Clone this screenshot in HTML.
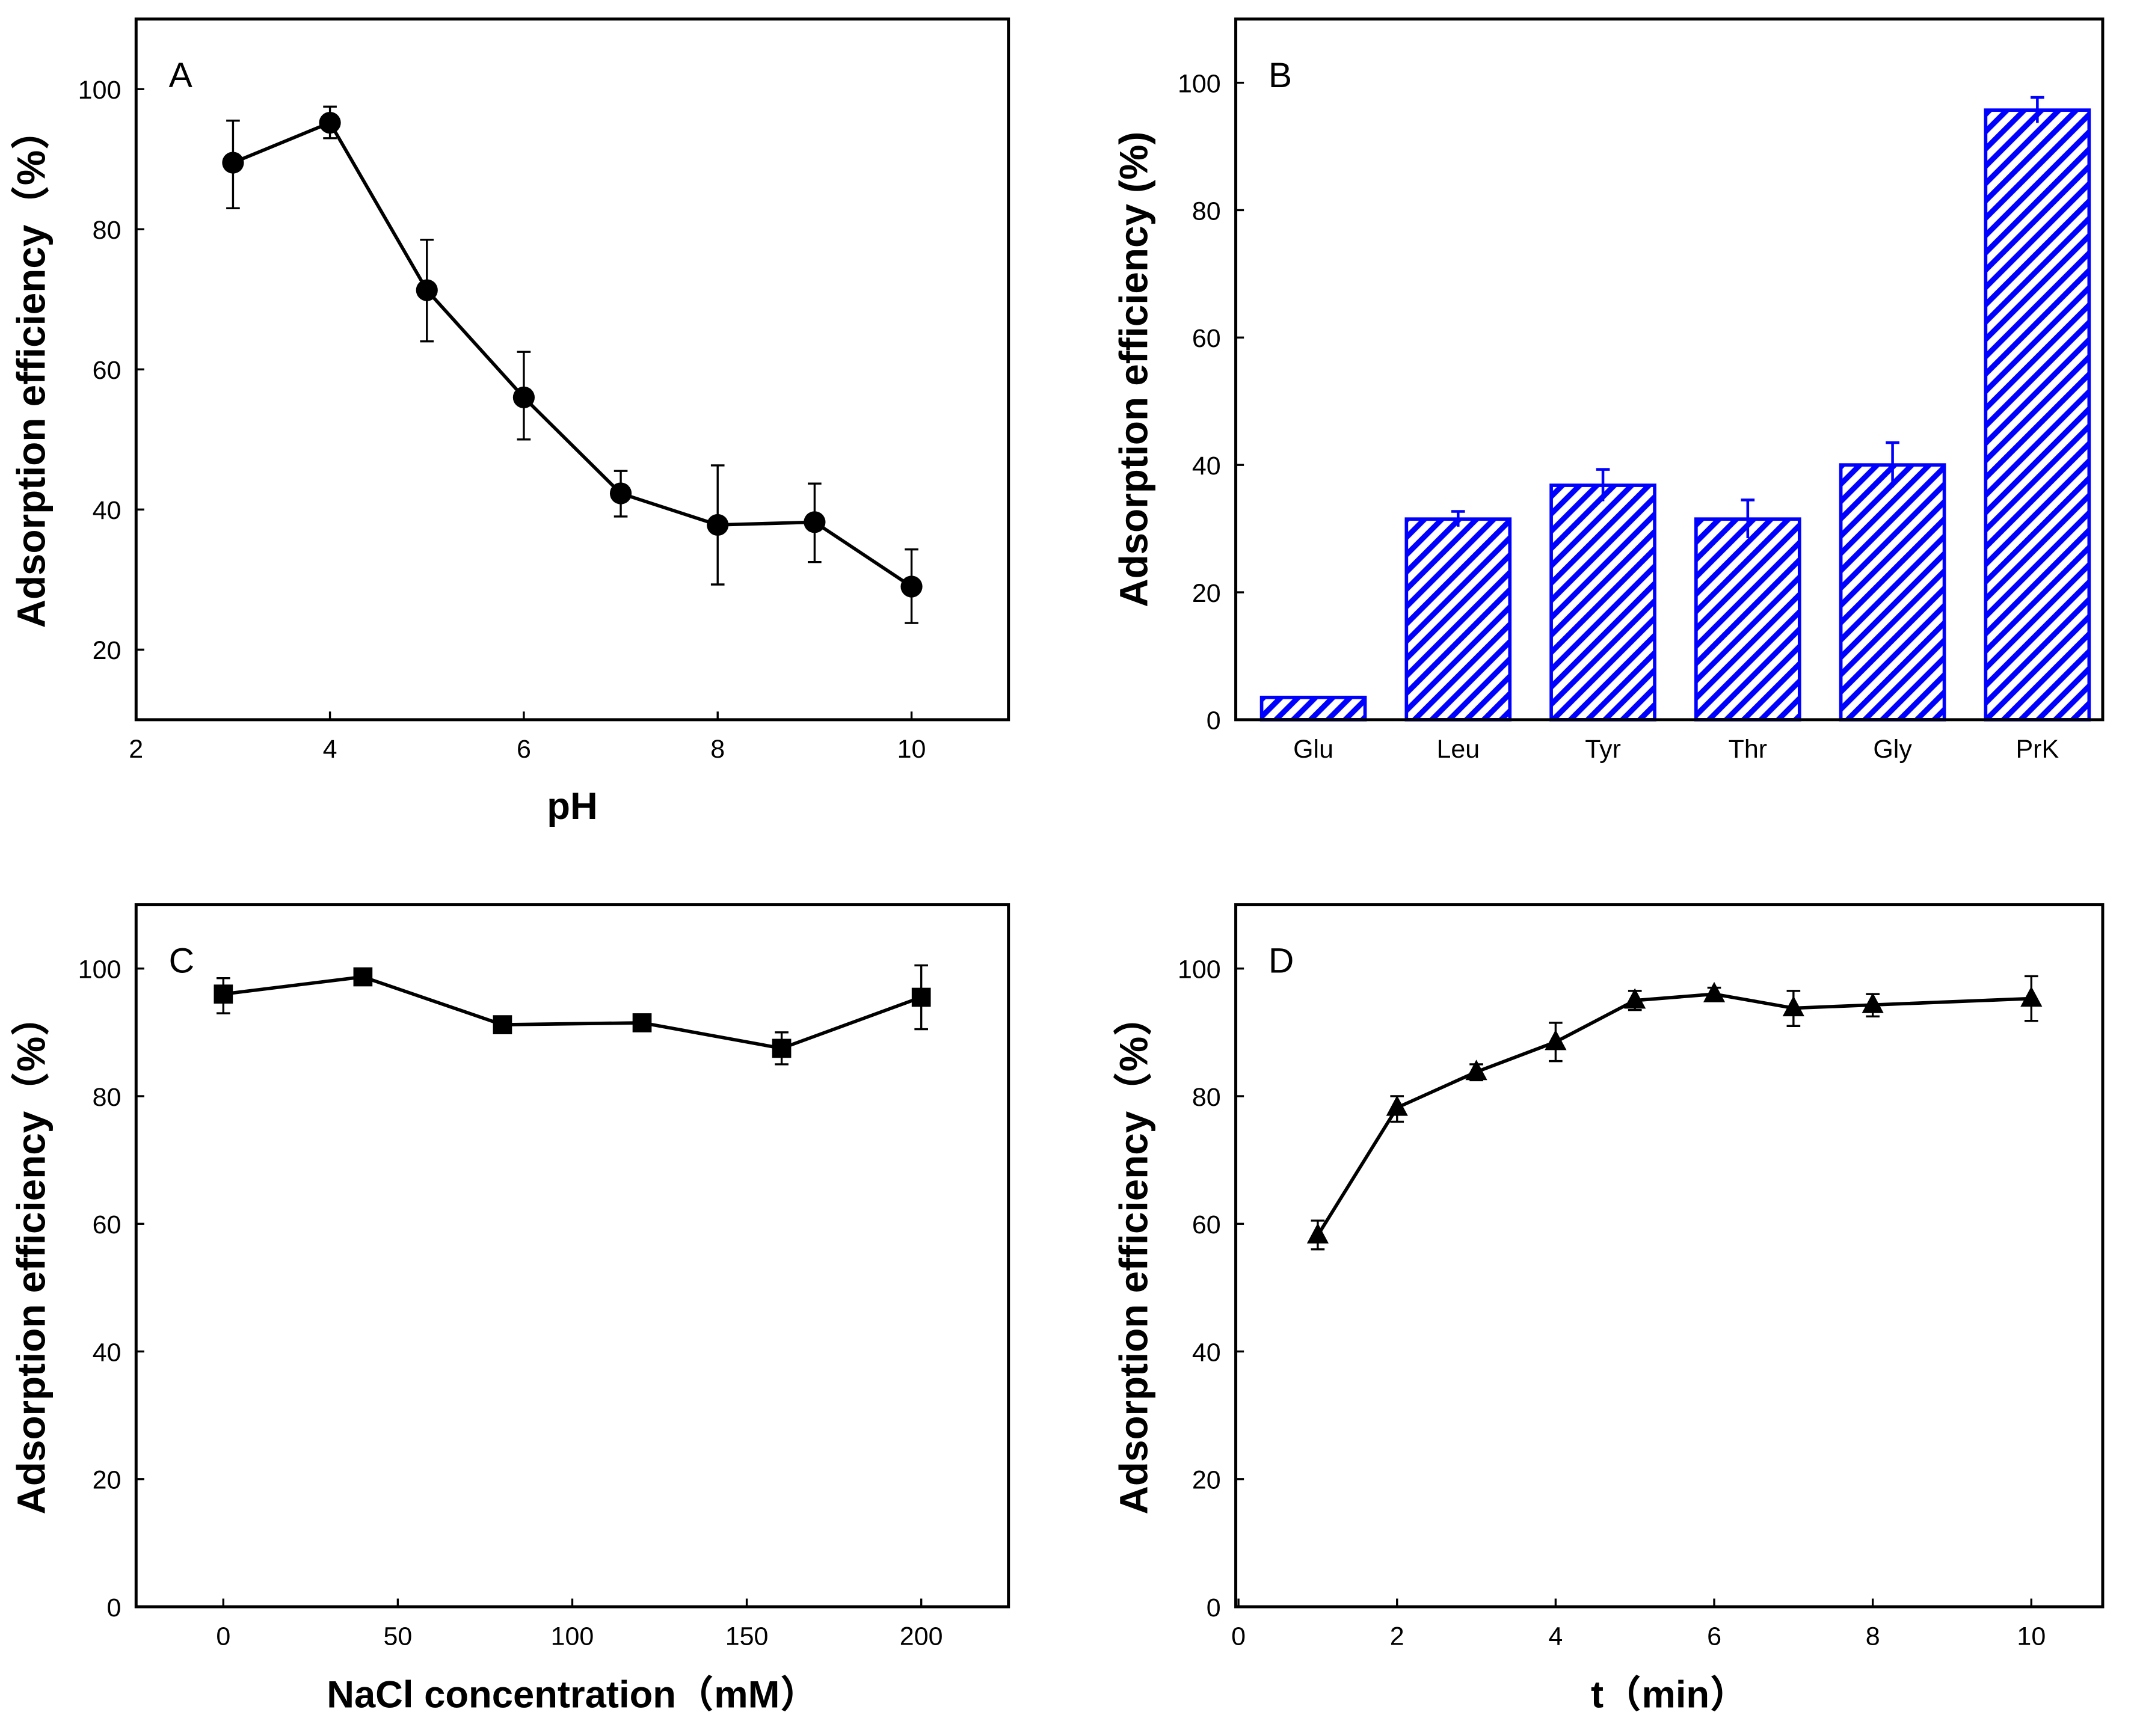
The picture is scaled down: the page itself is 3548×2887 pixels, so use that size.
<!DOCTYPE html>
<html><head><meta charset="utf-8"><style>
html,body{margin:0;padding:0;background:#fff}
svg{display:block}
text{font-family:"Liberation Sans","Noto Sans CJK SC",sans-serif;fill:#000}
</style></head><body>
<svg id="fig" width="3548" height="2887" viewBox="0 0 1568 1276" preserveAspectRatio="none" xmlns="http://www.w3.org/2000/svg">
<defs>
<pattern id="hatch" patternUnits="userSpaceOnUse" width="9" height="9" patternTransform="rotate(45)">
<rect width="9" height="9" fill="#fff"/><rect x="0" y="0" width="4" height="9" fill="#0000ff"/>
</pattern>
</defs>
</svg>
<script>
// Panel A data
const phX=[3,4,5,6,7,8,9,10];
const phY=[89.5,95.2,71.3,56,42.3,37.8,38.2,29];
const phLo=[83,93,64,50,39,29.3,32.5,23.8];
const phHi=[95.5,97.5,78.5,62.5,45.5,46.3,43.7,34.3];
const phXTicks=[2,4,6,8,10];
const phYTicks=[20,40,60,80,100];
// Panel B data
const aaCats=["Glu","Leu","Tyr","Thr","Gly","PrK"];
const aaVals=[3.5,31.5,36.8,31.5,40,95.7];
const aaErr=[0,1.2,2.5,3,3.5,2];
const aaYTicks=[0,20,40,60,80,100];
// Panel C data
const naclX=[0,40,80,120,160,200];
const naclY=[96,98.7,91.2,91.5,87.5,95.5];
const naclLo=[93,98,90.5,90.8,85,90.5];
const naclHi=[98.5,99.4,91.9,92.2,90,100.5];
const naclXTicks=[0,50,100,150,200];
const naclYTicks=[0,20,40,60,80,100];
// Panel D data
const tX=[1,2,3,4,5,6,7,8,10];
const tY=[58.2,78.2,83.8,88.5,95,96,93.8,94.3,95.3];
const tLo=[56,76,82.5,85.5,93.5,95,91,92.5,91.8];
const tHi=[60.5,80,85,91.5,96.5,97,96.5,96,98.8];
const tXTicks=[0,2,4,6,8,10];
const tYTicks=[0,20,40,60,80,100];

const NS="http://www.w3.org/2000/svg";
const svg=document.getElementById('fig');
function mk(tag,attrs,parent,text){const e=document.createElementNS(NS,tag);for(const k in attrs)e.setAttribute(k,attrs[k]);if(text!==undefined)e.textContent=text;(parent||svg).appendChild(e);return e;}
function lin(d0,d1,r0,r1){return v=>r0+(v-d0)/(d1-d0)*(r1-r0);}

function frame(g,L,T,R,B,xs,ys,xt,yt,lbl,ytitle,xtitle,ytx,xty){
  const box=mk('rect',{x:L,y:T,width:R-L,height:B-T,fill:'none',stroke:'#000','stroke-width':2.2},g);
  
  
  if(xt){xt.forEach(v=>{const x=xs(v);
    const t=mk('line',{x1:x,y1:B,x2:x,y2:B-6,stroke:'#000','stroke-width':1.5},g);
    
    
    const l=mk('text',{x:x,y:B+28,'text-anchor':'middle','font-size':19},g,String(v));
    
    });}
  yt.forEach(v=>{const y=ys(v);
    const t=mk('line',{x1:L,y1:y,x2:L+6,y2:y,stroke:'#000','stroke-width':1.5},g);
    
    
    const l=mk('text',{x:L-11,y:y+7,'text-anchor':'end','font-size':19},g,String(v));
    
    });
  const pl=mk('text',{x:L+24,y:T+50,'font-size':26},g,lbl);
  
  
  const yc=(T+B)/2;
  const yl=mk('text',{x:ytx,y:yc,'text-anchor':'middle','font-size':29,'font-weight':'bold',transform:`rotate(-90 ${ytx} ${yc})`},g,ytitle);
  
  
  const xl=mk('text',{x:(L+R)/2,y:xty,'text-anchor':'middle','font-size':28,'font-weight':'bold'},g,xtitle);
  
  
}
function series(g,xs,ys,X,Y,Lo,Hi,marker){
  const pts=X.map((x,i)=>xs(x)+','+ys(Y[i])).join(' ');
  const p=mk('polyline',{points:pts,fill:'none',stroke:'#000','stroke-width':2.5},g);
  
  
  X.forEach((x,i)=>{const cx=xs(x),y1=ys(Lo[i]),y2=ys(Hi[i]);
    const e=mk('path',{d:`M${cx},${y1}V${y2}M${cx-5},${y1}H${cx+5}M${cx-5},${y2}H${cx+5}`,stroke:'#000','stroke-width':1.5,fill:'none'},g);
    
    
    const cy=ys(Y[i]);let m;
    if(marker==='circle')m=mk('circle',{cx:cx,cy:cy,r:8},g);
    else if(marker==='square')m=mk('rect',{x:cx-7,y:cy-7,width:14,height:14},g);
    else m=mk('polygon',{points:`${cx},${cy-9} ${cx-8},${cy+6} ${cx+8},${cy+6}`},g);
    m.setAttribute('fill','#000');
    
    });
}
// A
let g=mk('g',{});  
let xs=lin(2,11,100,741), ys=lin(10,110,529,14);
frame(g,100,14,741,529,xs,ys,phXTicks,phYTicks,'A','Adsorption efficiency（%）','pH',33,602);
series(g,xs,ys,phX,phY,phLo,phHi,'circle');
// B
g=mk('g',{});  
ys=lin(0,110,529,14);
const bL=908,bR=1545,band=106.4,bw=76,first=965;
aaCats.forEach((c,i)=>{const cx=first+band*i,y=ys(aaVals[i]);
  const r=mk('rect',{x:cx-bw/2,y:y,width:bw,height:529-y,fill:'url(#hatch)',stroke:'#0000ff','stroke-width':2.5},g);
  
  
  if(aaErr[i]>0){const y1=ys(aaVals[i]-aaErr[i]),y2=ys(aaVals[i]+aaErr[i]);
    const e=mk('path',{d:`M${cx},${y1}V${y2}M${cx-5},${y2}H${cx+5}`,stroke:'#0000ff','stroke-width':2,fill:'none'},g);
    
    }
  const l=mk('text',{x:cx,y:557,'text-anchor':'middle','font-size':19},g,c);
  
  
});
frame(g,bL,14,bR,529,null,ys,null,aaYTicks,'B','Adsorption efficiency (%)','',843,600);
// C
g=mk('g',{});  
xs=lin(-25,225,100,741); ys=lin(0,110,1181,665);
frame(g,100,665,741,1181,xs,ys,naclXTicks,naclYTicks,'C','Adsorption efficiency（%）','NaCl concentration（mM）',33,1255);
series(g,xs,ys,naclX,naclY,naclLo,naclHi,'square');
// D
g=mk('g',{});  
xs=lin(0,10.9,910,1545); ys=lin(0,110,1181,665);
frame(g,908,665,1545,1181,xs,ys,tXTicks,tYTicks,'D','Adsorption efficiency（%）','t（min）',843,1255);
series(g,xs,ys,tX,tY,tLo,tHi,'triangle');
</script>
</body></html>
